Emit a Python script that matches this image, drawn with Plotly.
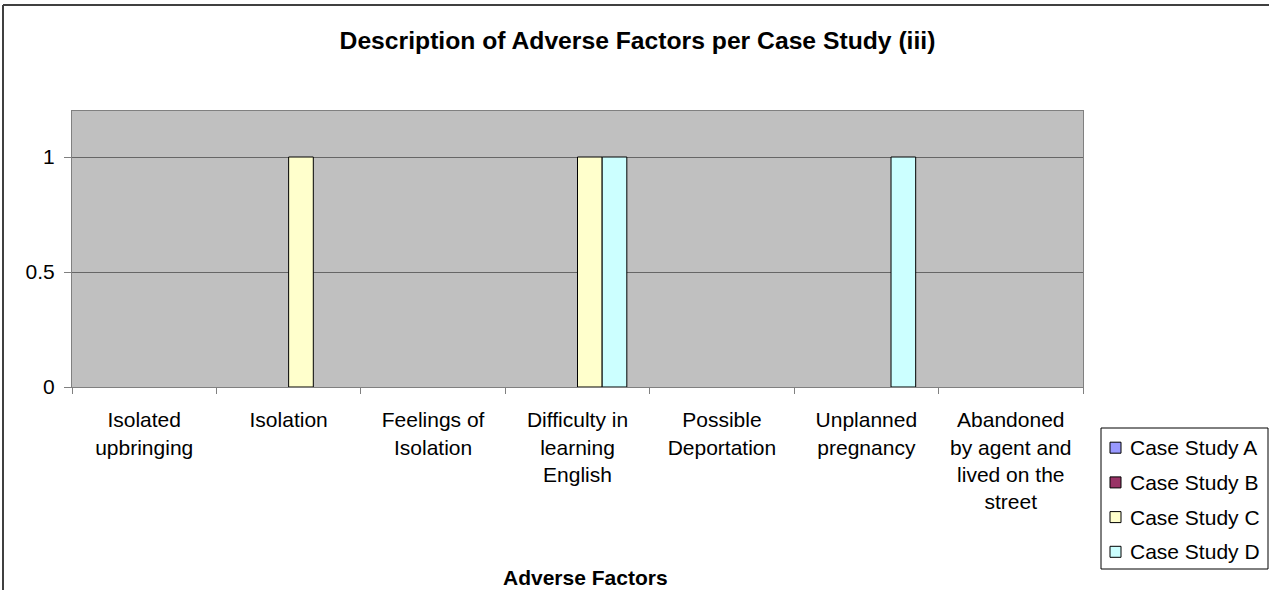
import plotly.graph_objects as go

# ---- data ----
categories = [
    "Isolated<br>upbringing",
    "Isolation",
    "Feelings of<br>Isolation",
    "Difficulty in<br>learning<br>English",
    "Possible<br>Deportation",
    "Unplanned<br>pregnancy",
    "Abandoned<br>by agent and<br>lived on the<br>street",
]
series_names = ["Case Study A", "Case Study B", "Case Study C", "Case Study D"]
case_a = [0, 0, 0, 0, 0, 0, 0]
case_b = [0, 0, 0, 0, 0, 0, 0]
case_c = [0, 1, 0, 1, 0, 0, 0]
case_d = [0, 0, 0, 1, 0, 1, 0]
y_ticks = [0, 0.5, 1]
y_tick_labels = ["0", "0.5", "1"]

title_text = "Description of Adverse Factors per Case Study (iii)"
x_title_text = "Adverse Factors"

# ---- style ----
colors = ["#9999FF", "#993366", "#FFFFCC", "#CCFFFF"]
FONT = "Liberation Sans, Arial, sans-serif"
W, H = 1269, 590
PL, PR, PT, PB = 72, 1083, 111, 387  # plot area in pixels


def px_x(px):
    return (px - PL) / (PR - PL)


def px_y(py):
    return (PB - py) / (PB - PT)


fig = go.Figure()
for name, vals, col in zip(series_names, [case_a, case_b, case_c, case_d], colors):
    fig.add_trace(go.Bar(
        x=categories, y=vals, name=name,
        marker=dict(color=col,
                    line=dict(color="#000000", width=[1 if v else 0 for v in vals])),
        showlegend=False,
    ))

shapes = []
annotations = []

# outer chart border (left and top visible)
shapes.append(dict(type="line", xref="paper", yref="paper",
                   x0=px_x(3), x1=px_x(3), y0=px_y(5), y1=px_y(620),
                   line=dict(color="#404040", width=2)))
shapes.append(dict(type="line", xref="paper", yref="paper",
                   x0=px_x(3), x1=px_x(1290), y0=px_y(5), y1=px_y(5),
                   line=dict(color="#404040", width=2)))

# manual legend
shapes.append(dict(type="rect", xref="paper", yref="paper",
                   x0=px_x(1101), x1=px_x(1268), y0=px_y(428), y1=px_y(569),
                   line=dict(color="#000000", width=1), fillcolor="#FFFFFF"))
item_y0, item_dy = 447.7, 34.7
for i, (name, col) in enumerate(zip(series_names, colors)):
    cy = item_y0 + i * item_dy
    shapes.append(dict(type="rect", xref="paper", yref="paper",
                       x0=px_x(1110), x1=px_x(1121), y0=px_y(cy - 5.5), y1=px_y(cy + 5.5),
                       line=dict(color="#000000", width=1), fillcolor=col))
    annotations.append(dict(xref="paper", yref="paper", x=px_x(1128), y=px_y(cy),
                            xanchor="left", yanchor="middle", showarrow=False,
                            text=name, font=dict(family=FONT, size=21, color="#000000")))

# x-axis title
annotations.append(dict(xref="paper", yref="paper", x=px_x(585), y=px_y(577),
                        xanchor="center", yanchor="middle", showarrow=False,
                        text="<b>" + x_title_text + "</b>",
                        font=dict(family=FONT, size=21, color="#000000")))

fig.update_layout(
    template="none",
    width=W, height=H,
    margin=dict(l=PL, r=W - PR, t=PT, b=H - PB, pad=0, autoexpand=False),
    paper_bgcolor="#FFFFFF",
    plot_bgcolor="#C0C0C0",
    barmode="group",
    bargap=0.317,
    bargroupgap=0,
    showlegend=False,
    font=dict(family=FONT, size=21, color="#000000"),
    title=dict(text="<b>" + title_text + "</b>", xref="container", yref="container",
               x=637.5 / W, y=1 - 40 / H, xanchor="center", yanchor="middle",
               font=dict(family=FONT, size=24.7, color="#000000")),
    shapes=shapes,
    annotations=annotations,
)
fig.update_xaxes(
    type="category", range=[-0.5, 6.5], automargin=False,
    showline=True, linecolor="#808080", linewidth=1, mirror=True,
    ticks="outside", ticklen=6, tickcolor="#808080", tickson="boundaries",
    showgrid=False, zeroline=False,
    tickfont=dict(family=FONT, size=21, color="#000000"),
    ticklabelstandoff=14,
)
fig.update_yaxes(
    range=[0, 1.2], automargin=False,
    tickvals=y_ticks, ticktext=y_tick_labels,
    showline=True, linecolor="#808080", linewidth=1, mirror=True,
    ticks="outside", ticklen=7, tickcolor="#808080",
    showgrid=True, gridcolor="#666666", gridwidth=1, zeroline=False,
    tickfont=dict(family=FONT, size=21, color="#000000"),
    ticklabelstandoff=5,
)

fig.write_html("out.html",
               config={"displayModeBar": False},
               post_script="document.body.style.margin='0';document.body.style.overflow='hidden';")
